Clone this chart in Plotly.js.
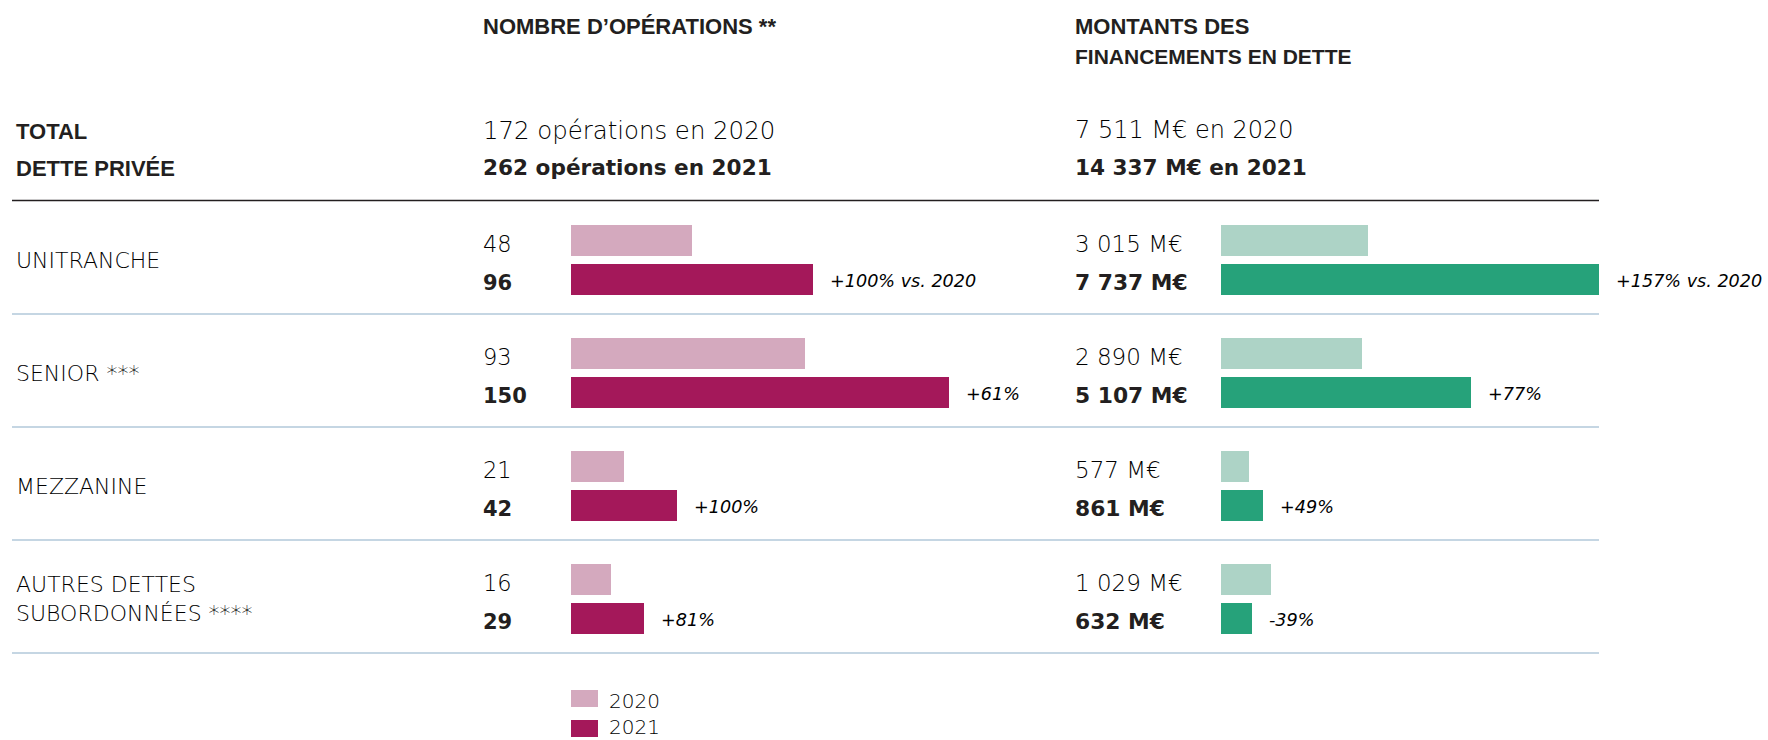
<!DOCTYPE html>
<html>
<head>
<meta charset="utf-8">
<script src="https://cdn.plot.ly/plotly-3.0.1.min.js"></script>
<style>html,body{margin:0;padding:0;background:#fff;}#chart{width:1768px;height:740px;}</style>
</head>
<body>
<div id="chart"></div>
<script>
const categories = ['UNITRANCHE', 'SENIOR ***', 'MEZZANINE', 'AUTRES DETTES<br>SUBORDONNÉES ****'];
const years = ['2020', '2021'];
const ops2020 = [48, 93, 21, 16];
const ops2021 = [96, 150, 42, 29];
const mt2020 = [3015, 2890, 577, 1029];
const mt2021 = [7737, 5107, 861, 632];
const opsChange = ['+100% vs. 2020', '+61%', '+100%', '+81%'];
const mtChange = ['+157% vs. 2020', '+77%', '+49%', '-39%'];
const totalOps = [172, 262];
const totalMt = [7511, 14337];
const headerOps = 'NOMBRE D\u2019OPÉRATIONS **';
const headerMt = ['MONTANTS DES', 'FINANCEMENTS EN DETTE'];
const headerTotal = ['TOTAL', 'DETTE PRIVÉE'];

const W = 1768, H = 740;
const TXT = '#231f20';
const TXT_LIGHT = '#000000';
const BODY = '"DejaVu Sans", sans-serif';
const HEAD = '"Liberation Sans", Arial, sans-serif';
const C = {p20: '#d4a9be', p21: '#a4185a', g20: '#add3c6', g21: '#26a27a'};

function fmt(v) { return String(v).replace(/\B(?=(\d{3})+(?!\d))/g, ' '); }
const px = v => v / W;
const rowTop = i => 225 + i * 113;
const BH = 31;
const y20 = categories.map((c, i) => rowTop(i) + BH / 2);
const y21 = categories.map((c, i) => rowTop(i) + 39 + BH / 2);

const barCommon = {type: 'bar', orientation: 'h', width: BH, hoverinfo: 'skip', showlegend: false, base: 0};
const traces = [
  Object.assign({}, barCommon, {name: years[0], x: ops2020, y: y20, marker: {color: C.p20}, xaxis: 'x', yaxis: 'y'}),
  Object.assign({}, barCommon, {name: years[1], x: ops2021, y: y21, marker: {color: C.p21}, xaxis: 'x', yaxis: 'y'}),
  Object.assign({}, barCommon, {name: years[0], x: mt2020, y: y20, marker: {color: C.g20}, xaxis: 'x2', yaxis: 'y'}),
  Object.assign({}, barCommon, {name: years[1], x: mt2021, y: y21, marker: {color: C.g21}, xaxis: 'x2', yaxis: 'y'})
];

const ann = [];
const light = s => ({family: BODY, size: s, color: TXT_LIGHT, weight: 300});
const bold = s => ({family: BODY, size: s, color: TXT, weight: 700});
const head = s => ({family: HEAD, size: s, color: TXT, weight: 700});
function t(x, y, text, font, opts) {
  ann.push(Object.assign({x: px(x), xref: 'paper', y: y, yref: 'y', text: text, showarrow: false,
    xanchor: 'left', yanchor: 'middle', align: 'left', font: font}, opts || {}));
}
// headers
t(481, 26, '<b>' + headerOps + '</b>', head(22));
t(1073, 26, '<b>' + headerMt[0] + '</b>', head(22));
t(1073, 56, '<b>' + headerMt[1] + '</b>', head(21));
t(14, 131, '<b>' + headerTotal[0] + '</b>', head(22));
t(14, 168, '<b>' + headerTotal[1] + '</b>', head(22));
t(481, 130, totalOps[0] + ' opérations en ' + years[0], light(24.4));
t(481, 167, '<b>' + totalOps[1] + ' opérations en ' + years[1] + '</b>', bold(21.6));
t(1073, 130, fmt(totalMt[0]) + ' M€ en ' + years[0], light(24));
t(1073, 167, '<b>' + fmt(totalMt[1]) + ' M€ en ' + years[1] + '</b>', bold(21.6));

categories.forEach((c, i) => {
  t(14, rowTop(i) + 35, c, light(22));
  t(481, y20[i] + 3, String(ops2020[i]), light(22.5));
  t(481, y21[i] + 3, '<b>' + ops2021[i] + '</b>', bold(21));
  t(1073, y20[i] + 3, fmt(mt2020[i]) + ' M€', light(23));
  t(1073, y21[i] + 3, '<b>' + fmt(mt2021[i]) + ' M€</b>', bold(21.8));
  ann.push({x: ops2021[i], xref: 'x', y: y21[i] + 1, yref: 'y', text: '<i>' + opsChange[i] + '</i>', showarrow: false,
    xanchor: 'left', yanchor: 'middle', xshift: 15, font: light(17.6)});
  ann.push({x: mt2021[i], xref: 'x2', y: y21[i] + 1, yref: 'y', text: '<i>' + mtChange[i] + '</i>', showarrow: false,
    xanchor: 'left', yanchor: 'middle', xshift: 15, font: light(17.6)});
});

// legend
const shapes = [];
const legY = [690, 720];
const legTxtY = [701, 727];
years.forEach((yr, k) => {
  shapes.push({type: 'rect', xref: 'paper', yref: 'y', x0: px(571), x1: px(598), y0: legY[k], y1: legY[k] + 17,
    fillcolor: k === 0 ? C.p20 : C.p21, line: {width: 0}});
  t(607, legTxtY[k], yr, light(20));
});
// separators
shapes.push({type: 'line', xref: 'paper', yref: 'y', x0: px(12), x1: px(1599), y0: 200.5, y1: 200.5, line: {color: '#231f20', width: 1.5}});
categories.forEach((c, i) => {
  const yy = rowTop(i) + 89;
  shapes.push({type: 'line', xref: 'paper', yref: 'y', x0: px(12), x1: px(1599), y0: yy, y1: yy, line: {color: '#c5d6e3', width: 2}});
});

const layout = {
  width: W, height: H, margin: {l: 0, r: 0, t: 0, b: 0}, paper_bgcolor: '#fff', plot_bgcolor: 'rgba(0,0,0,0)',
  showlegend: false, bargap: 0,
  xaxis: {domain: [px(571), px(571 + 378)], range: [0, Math.max(...ops2020, ...ops2021)], visible: false, fixedrange: true, anchor: 'y'},
  xaxis2: {domain: [px(1221), px(1221 + 378)], range: [0, Math.max(...mt2020, ...mt2021)], visible: false, fixedrange: true, anchor: 'y'},
  yaxis: {domain: [0, 1], range: [H, 0], visible: false, fixedrange: true},
  annotations: ann, shapes: shapes
};
Plotly.newPlot('chart', traces, layout, {displayModeBar: false, staticPlot: true});
</script>
</body>
</html>
